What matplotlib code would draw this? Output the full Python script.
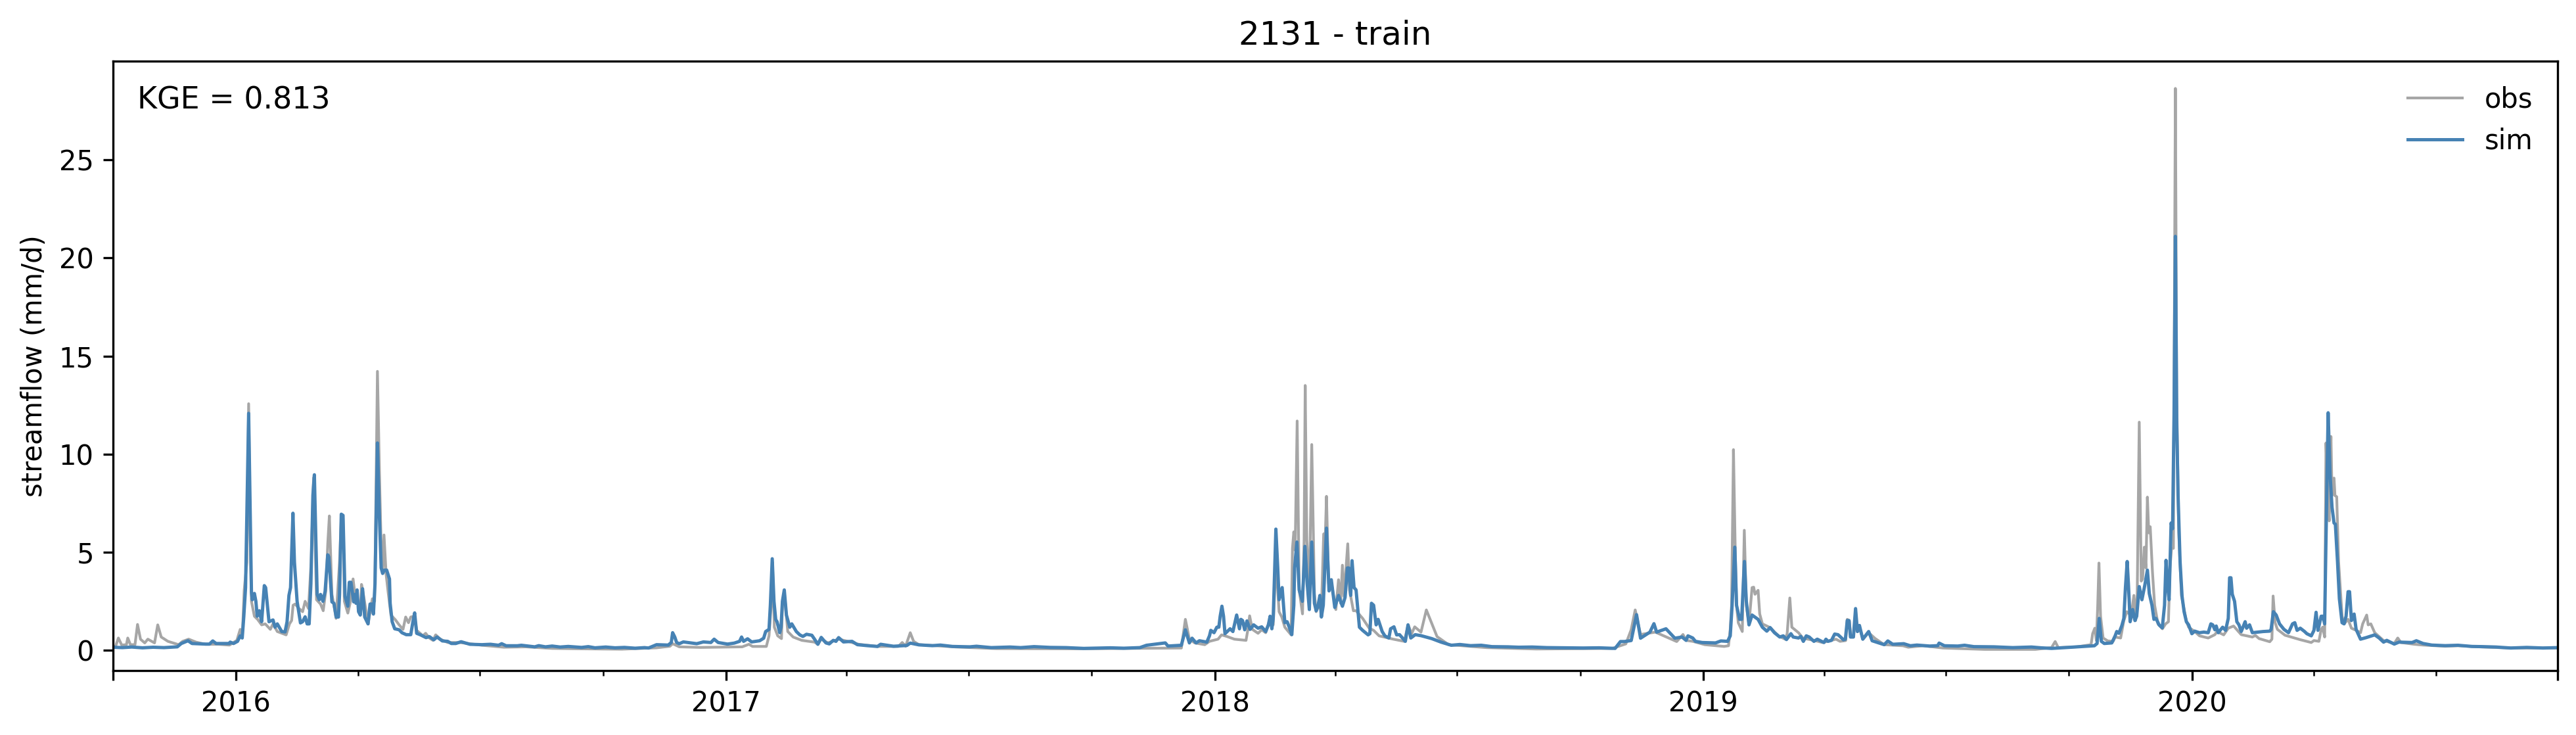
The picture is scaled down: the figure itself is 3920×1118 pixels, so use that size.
import pandas as pd
import matplotlib
matplotlib.use("Agg")
import matplotlib.pyplot as plt
import matplotlib.dates as mdates

basin = "2131"
period = "train"
kge = 0.813
start_date = "2015-10-01"
end_date = "2020-09-30"

# (days since start_date, streamflow mm/d) at the turning points
obs_trace = [
    (0, .16), (2, .22), (4, .63), (6.5, .27), (10, .29), (11, .63), (13, .29), (16.4, .29), (18.3, 1.32),
    (20.5, .57), (23.7, .38), (26, .57), (31, .38), (33.4, 1.3), (36, .68), (41, .46), (49, .29), (52, .46),
    (56.5, .57), (62, .42), (69, .31), (78.6, .31), (87, .27), (92.5, .51), (95, 1.07), (96.6, .74),
    (98, 3.08), (100, 4.5), (101.3, 12.57), (102.5, 5.65), (103.4, 2.5), (105.6, 1.74), (108, 1.58),
    (111, 1.3), (113.7, 1.35), (117.5, 1.07), (119.5, 1.35), (122.7, .96), (129.3, .79), (131.8, 1.35),
    (133.4, 1.52), (134.5, 2.3), (136, 2.36), (139, 2.13), (141.6, 1.97), (143.5, 2.5), (146, 2.13),
    (148, 4.5), (149.8, 8.8), (152, 2.58), (155, 2.36), (157, 2.02), (159, 3.08), (160.4, 5.43),
    (161.6, 6.85), (163.5, 2.86), (165, 2.3), (166.6, 1.63), (169.2, 4.5), (170.5, 6.77), (171.8, 6.7),
    (172.8, 2.5), (175.4, 1.9), (177.4, 2.5), (179.3, 3.64), (181.5, 2.4), (183, 2.5), (184.7, 1.85),
    (185.6, 3.36), (187, 2.86), (188.8, 2.08), (190.5, 1.35), (193.7, 2.63), (195.4, 2.5), (196.4, 7.89),
    (197.5, 14.22), (199, 9), (200.3, 5.2), (201.4, 3.97), (202.4, 5.88), (204, 3.87), (205.5, 2.97),
    (207.6, 1.8), (211, 1.55), (213.7, 1.3), (216.6, 1.07), (218.6, 1.7), (220.7, 1.41), (222.4, 1.7),
    (225.2, 1.74), (226.8, 1.02), (229.7, .85), (231.4, .74), (233.5, .87), (236.3, .63), (239, .51),
    (241, .79), (244.5, .57), (250, .4), (259, .4), (275.6, .26), (292, .16), (308.3, .18), (328, .1),
    (350, .08), (380, .06), (406, .13), (416, .21), (418, .34), (423, .18), (439, .15), (470, .18),
    (475, .31), (477.7, .2), (488, .2), (490, .74), (491.6, 2.3), (492.6, 4.5), (494, 1.18), (496.5, .74),
    (499.3, .6), (500, 2.3), (501.4, 3.0), (504, .96), (508, .68), (514.5, .51), (524, .42), (526.5, .31),
    (529, .57), (534, .38), (542, .57), (547, .49), (557, .31), (571, .2), (586.5, .2), (589.5, .4),
    (592, .21), (595.5, .9), (598, .46), (602, .29), (630, .17), (660, .09), (720, .08), (798, .12),
    (801, 1.58), (804, .57), (808, .38), (815.5, .29), (819, .46), (825.4, .57), (828, .79), (832, .71),
    (837.6, .57), (846.3, .51), (848, 1.18), (849, 1.76), (851, 1.07), (855.3, .87), (858, 1.05), (861, .9),
    (864.4, 1.63), (866.6, 1.3), (868.7, 4.5), (871, 1.97), (873, 1.7), (875.3, 1.18), (880, .79),
    (881, 5.2), (882, 6.04), (883, 5.1), (884.5, 11.69), (886, 3.08), (888.5, 1.86), (889.7, 5.65),
    (890.5, 13.5), (891.7, 5.65), (893.6, 2.85), (895.4, 10.49), (897.4, 2.85), (898.7, 1.97), (900.7, 2.3),
    (902.6, 2.02), (904.3, 5.93), (905.6, 5.98), (906.4, 7.85), (908, 3.4), (910.5, 3.25), (913.4, 2.08),
    (915.4, 3.6), (917, 2.4), (918.3, 4.34), (919.5, 2.75), (921, 4.2), (922.3, 5.43), (923.6, 3.08),
    (926.5, 2.02), (928.5, 2.02), (933.4, 1.63), (938.3, 1.13), (941.6, 1.02), (945.7, .74), (956.3, .57),
    (964.5, .46), (967.4, 1.3), (970, .85), (972.3, 1.2), (977, .93), (981, 2.06), (989, .7), (997.6, .29),
    (1026, .14), (1063, .07), (1120, .1), (1130, .33), (1134, 1.05), (1137, 2.06), (1141, .81), (1152, .93),
    (1168, .45), (1172.7, .81), (1175, .51), (1180, .46), (1189, .29), (1203.4, .2), (1206.7, .235),
    (1208, 1.07), (1209, 2.3), (1210.4, 10.23), (1211.6, 5.54), (1212.7, 2.3), (1214, 1.41), (1217, .96),
    (1218.5, 6.12), (1220, 2.3), (1222, 1.35), (1223.4, 2.5), (1224.3, 3.2), (1225.5, 3.22), (1226.5, 2.86),
    (1228.8, 3.06), (1230, 1.86), (1232, 1.35), (1237.8, 1.16), (1244, .74), (1249, .57), (1250.5, .85),
    (1252.5, 2.67), (1254, 1.18), (1259, .9), (1262.3, .62), (1270.5, .51), (1277, .4), (1287, .57),
    (1290, .46), (1294.2, .5), (1295.4, 1.58), (1297, 1.5), (1298, .68), (1300, .68), (1301.6, 2.0),
    (1303, .96), (1304.5, 1.2), (1307, .57), (1311.4, .9), (1316.3, .6), (1323, .29), (1337, .235),
    (1341, .16), (1352, .235), (1367, .12), (1398, .05), (1436, .05), (1448, .14), (1450.7, .45),
    (1453, .14), (1467, .18), (1477.5, .29), (1478.7, .85), (1480.3, 1.13), (1481.5, .5), (1482.5, 2.3),
    (1483.4, 4.45), (1484.6, 1.74), (1486.5, .63), (1490, .48), (1494, .46), (1495.5, .68), (1499.6, .63),
    (1502, 1.52), (1504.2, 1.97), (1506.2, 1.85), (1508, 2.02), (1509.5, 2.8), (1510.8, 1.52), (1512, 2.85),
    (1513.5, 11.63), (1515, 3.53), (1516, 3.64), (1517.3, 5.26), (1518.5, 4.2), (1519.6, 7.81), (1520.6, 5.99),
    (1521.7, 6.3), (1523.4, 3.97), (1525, 2.3), (1527.5, 1.35), (1530.8, 1.1), (1533.2, 1.35), (1535.3, 1.46),
    (1536.5, 4.2), (1537.6, 5.2), (1539, 5.2), (1540.5, 28.64), (1541.5, 13), (1543, 6), (1545, 2.8),
    (1548.7, 1.5), (1550.4, 1.18), (1555, .96), (1558.5, .74), (1565, .63), (1570, .8), (1571.6, .96),
    (1576.6, .79), (1580, 1.13), (1584, 1.24), (1589.7, .8), (1598, .68), (1600.3, .76), (1603, .6),
    (1611, .44), (1612.6, .57), (1613.5, 2.77), (1615, 1.41), (1616.7, 1.07), (1622.4, .77), (1634, .54),
    (1642, .4), (1644, .5), (1647.7, .46), (1649.4, 1.07), (1650.5, 1.18), (1652, .68), (1653, 10.57),
    (1654.3, 7.89), (1655.4, 6.6), (1656.7, 10.9), (1657.5, 7.89), (1659, 8.78), (1659.7, 7.89), (1661, 7.83),
    (1662.4, 4.53), (1665, 1.74), (1666.5, 1.35), (1669.5, 1.58), (1672, 1.13), (1675.5, 1.02), (1678.8, .9),
    (1680.4, 1.35), (1683.4, 1.8), (1684.5, 1.3), (1686.5, 1.35), (1689.4, .9), (1696, .5), (1704, .35),
    (1706.6, .63), (1709, .4), (1719, .31), (1725.5, .27), (1742, .21), (1751.6, .235), (1770, .17),
    (1791, .12), (1826, .12),
]

sim_trace = [
    (0, .16), (7, .14), (14, .17), (22, .13), (30, .16), (38, .14), (48, .18), (51, .35), (56, .49), (59, .35), (69, .32), (72, .32), (74.5, .48), (77, .35),
    (87, .35), (87.5, .42), (90, .35), (93, .46), (95, .74), (96.5, .63), (97.7, 1.74), (99, 3.2),
    (101.3, 12.08), (102.5, 6.8), (103.4, 2.97), (104, 2.58), (105.6, 2.9), (106.7, 2.5), (107.7, 1.74),
    (109.3, 2.02), (111, 1.46), (113, 3.3), (114, 3.2), (116.5, 1.46), (119.5, 1.55), (121, 1.18),
    (122.7, 1.35), (126, .96), (128.5, .94), (130, 1.46), (131.4, 2.8), (132.6, 3.2), (134.4, 6.99),
    (135.5, 4.5), (137.5, 2.5), (140, 1.4), (141.6, 1.46), (143.5, 1.71), (145, 1.35), (146.5, 1.35),
    (147.8, 3.4), (149.3, 7.9), (150.4, 8.95), (151.5, 5.65), (152.5, 2.85), (154, 2.58), (155, 2.85),
    (156.8, 2.5), (158.4, 3.0), (160.4, 4.87), (161.2, 4.76), (163.5, 2.47), (165, 2.4), (166.7, 1.7),
    (168.4, 1.7), (169.2, 2.85), (170.5, 6.94), (171.8, 6.88), (173.3, 2.75), (175.4, 2.25), (176.5, 3.47),
    (177.7, 3.47), (179.8, 2.47), (180.6, 2.85), (181.5, 2.4), (182.3, 3.08), (183.4, 1.97), (184.7, 1.8),
    (186.4, 3.14), (188, 1.7), (190.5, 1.35), (192, 2.36), (193.2, 2.36), (194.5, 1.85), (195.7, 3.4),
    (197.5, 10.57), (199, 6.77), (200.3, 4.2), (201.4, 3.92), (202.7, 4.09), (204.4, 4.09), (206.5, 3.64),
    (207, 2.4), (208.5, 1.46), (210.4, 1.1), (213.7, 1.05), (215.8, .9), (219, .8), (222.4, .8), (224, 1.46),
    (225.3, 1.91), (226.8, .87), (229.7, .79), (233.8, .65), (236.3, .7), (239.6, .54), (242, .68), (246, .48),
    (250, .46), (252.7, .35), (256, .35), (260, .44), (266.6, .31), (275.6, .29), (282, .31), (288, .26),
    (290.3, .34), (293.6, .235), (302, .235), (305, .26), (315, .18), (318, .24), (323, .18), (328, .22),
    (334, .17), (340, .2), (350, .15), (355, .19), (360, .13), (368, .17), (375, .13), (382, .15), (390, .11), (397, .14),
    (400, .12), (406, .29), (414.7, .27), (417, .4),
    (418, .9), (419.6, .68), (421, .4), (423, .34), (426, .43), (436, .34), (441, .43), (446.6, .4), (449, .57),
    (452, .4), (459, .32), (464, .37), (468, .46), (469.5, .68), (471, .46), (474, .59), (477, .43), (483, .49),
    (486, .62), (487.5, .96), (490, 1.07), (491, 2.3), (492.4, 4.67), (493.7, 2.5), (495, 1.57), (496, 1.46),
    (498, .9), (499, 1.18), (500, 2.5), (501.4, 3.08), (503, 1.8), (505.5, 1.18), (507, 1.35), (510.4, .96),
    (513, .79), (515.3, .71), (518, .82), (522, .77), (524, .57), (526.5, .31), (529, .66), (532.5, .38),
    (535, .33), (538, .51), (540, .46), (542, .65), (545.6, .43), (552, .46), (556, .29), (563.6, .24), (571, .2),
    (573.4, .31), (583, .21), (593, .25), (595.5, .37), (602, .28), (612, .24), (618, .27), (627, .2), (640, .18),
    (645, .21), (656, .14), (670, .17), (678, .14), (688, .19), (700, .15), (712, .14), (725, .1), (745, .13),
    (755, .11), (767, .14), (772, .26), (786, .38), (788, .22), (798, .26), (801, 1.05), (804, .38), (806, .62), (809, .38),
    (811.5, .49), (817, .42), (819, .74), (820, 1.02), (822.4, .9), (824.5, 1.18), (826, 1.18), (827, 1.74),
    (828.3, 2.25), (829.5, 1.74), (830.6, .85), (834.4, 1.1), (836.5, .96), (839.3, 1.8), (841.4, 1.1),
    (842.5, 1.58), (843.7, 1.52), (845.3, 1.05), (847, 1.5), (849.3, 1.07), (852, 1.3), (855.3, 1.13), (858, 1.2),
    (861, .96), (863, 1.3), (864.3, 1.74), (865.6, 1.1), (866.6, 1.63), (867.4, 3.4), (868.6, 6.18), (870, 4.2),
    (871, 2.58), (873.3, 3.2), (875.3, 1.41), (877, 1.46), (878.6, 1.18), (880.5, .8), (882, 2.3), (882.6, 4.2),
    (884.3, 5.52), (886, 3.08), (888.4, 2.5), (890.3, 5.3), (892, 3.4), (893.6, 2.08), (895.4, 5.52), (897.4, 2.4),
    (898.7, 2.02), (900, 2.25), (901.5, 2.8), (902.6, 1.7), (904, 2.3), (906.4, 6.23), (908.3, 3.03), (910, 3.6),
    (912.6, 2.19), (915.4, 2.8), (918.3, 2.25), (920.3, 2.7), (922, 4.2), (923, 4.2), (924.5, 2.8), (925.5, 4.57),
    (927, 3.2), (928.5, 3.08), (931, 1.18), (933.4, 1.02), (937.5, .79), (938.8, .85), (940, 2.4), (941.6, 2.3),
    (943.5, 1.3), (945, 1.58), (948, .96), (950, .74), (953, .63), (954.3, 1.1), (956.8, 1.2), (958.8, .79),
    (961, .8), (965.3, .46), (967.3, 1.3), (969.4, .63), (972.7, .8), (977, .75), (985, .6), (992, .42), (999.6, .26), (1006, .3), (1014, .24),
    (1022, .26), (1030, .19), (1042, .18), (1050, .16), (1060, .17), (1071, .14), (1085, .13), (1098, .12), (1110, .13), (1122, .1), (1126, .45), (1129, .45), (1134, .5), (1138, 1.82), (1141, .62), (1148, .93),
    (1151, 1.36), (1153, .93), (1160, 1.1), (1166.6, .62), (1172, .68), (1175, .51), (1176.4, .74), (1180, .63),
    (1182, .46), (1187, .4), (1197, .38), (1201, .48), (1206, .46), (1208, .74), (1209.4, 2.3), (1211.4, 5.26),
    (1212.7, 2.3), (1215, 1.58), (1216.5, 1.58), (1218.6, 4.53), (1220, 2.5), (1222, 1.3), (1224.3, 1.8), (1228.8, 1.58),
    (1232, 1.18), (1235.3, .98), (1237.8, 1.16), (1241, .9), (1245, .68), (1247.6, .74), (1250, .55), (1253.3, .85),
    (1255, .68), (1259, .63), (1260.7, .71), (1262.6, .46), (1264.8, .74), (1267, .68), (1270.5, .46), (1273, .57),
    (1278, .4), (1279.5, .57), (1281, .46), (1283.6, .51), (1286, .83), (1288.5, .8), (1292.6, .54), (1294, .57),
    (1295.4, 1.52), (1296.7, 1.52), (1297.8, .68), (1300, .68), (1301.6, 2.13), (1303, .96), (1304.5, 1.27), (1307, .57),
    (1311.4, .96), (1314, .49), (1323, .29), (1325.7, .48), (1329.4, .31), (1337.6, .34), (1342.5, .235), (1347.4, .27),
    (1357, .22), (1363, .24), (1364, .37), (1368, .235), (1378, .22), (1383, .26), (1390, .19), (1405, .18), (1412, .16),
    (1419, .14), (1433, .17), (1440, .13), (1448, .1), (1458, .14), (1467, .18), (1480, .235),
    (1482, .35), (1483.6, 1.63), (1485.2, .46), (1487.4, .35), (1493, .38), (1495.5, .74), (1496.7, .96), (1498.3, .87),
    (1500.5, 1.26), (1502, 1.63), (1503.2, 3.2), (1504.5, 4.53), (1505.4, 3.4), (1506.7, 1.46), (1508.6, 2.08),
    (1510.3, 1.52), (1511.6, 1.74), (1513.5, 3.25), (1515.5, 2.58), (1517.6, 3.3), (1519.6, 4.09), (1521, 2.9), (1523, 2.3),
    (1524.5, 1.58), (1526, 1.63), (1528.3, 1.3), (1530.7, 1.15), (1532.4, 2.3), (1533.5, 4.59), (1534.5, 3.4), (1535.8, 2.58),
    (1537.3, 6.49), (1538.4, 6.2), (1539.5, 12), (1540.5, 21.1), (1541.5, 11.5), (1542.5, 7.9), (1544, 4.53), (1545.5, 2.75),
    (1547, 1.97), (1548.7, 1.46), (1550.4, 1.3), (1552.8, .85), (1555, .98), (1558.5, .9), (1561.8, .93), (1565, .9),
    (1567, 1.35), (1568.4, 1.3), (1570, 1.05), (1571, 1.24), (1572.5, .9), (1575.8, 1.18), (1578, 1.02), (1580, 1.63),
    (1581, 3.7), (1582, 3.7), (1583, 2.86), (1584.7, 2.5), (1586.4, 1.46), (1588, 1.3), (1589.7, .96), (1592.6, 1.46),
    (1593.7, 1.13), (1595.9, 1.3), (1598, .9), (1606, .96), (1611, .98), (1612, 1.07), (1613.7, 1.97), (1615.8, 1.8),
    (1618.3, 1.35), (1621.6, 1.07), (1625, .9), (1628, 1.35), (1629.7, 1.41), (1631.4, 1.02), (1633.8, 1.13), (1637, .96),
    (1638.7, .85), (1642, .74), (1644, 1.02), (1645.6, 1.94), (1647, 1.02), (1649.4, 1.74), (1650.7, 1.74), (1652, 1.35),
    (1653, 5.65), (1654.6, 12.11), (1656, 9), (1657.5, 7.3), (1659, 6.49), (1660, 6.43), (1661.6, 4.53), (1663, 2.63),
    (1665, 1.41), (1666.5, 1.35), (1668, 1.74), (1669.5, 2.99), (1670.6, 2.99), (1672, 1.52), (1674, 1.85), (1675.5, 1.07),
    (1678.8, .57), (1683, .65), (1689.4, .79), (1692.7, .63), (1696, .42), (1698.4, .51), (1704, .32), (1707.5, .42),
    (1717.3, .4), (1720.5, .49), (1725.5, .35), (1732, .27), (1742, .24), (1751.6, .26), (1762, .2), (1770, .19), (1780, .17),
    (1791, .12), (1803, .15), (1815, .12), (1826, .14),
]

year_ticks = ["2016-01-01", "2017-01-01", "2018-01-01", "2019-01-01", "2020-01-01"]
year_labels = ["2016", "2017", "2018", "2019", "2020"]
flow_ticks = [0, 5, 10, 15, 20, 25]


def to_dates(days):
    return pd.Timestamp(start_date) + pd.to_timedelta(list(days), unit="D")


obs_days, obs_flow = zip(*obs_trace)
sim_days, sim_flow = zip(*sim_trace)

fig = plt.figure(figsize=(3920 / 300, 1118 / 300), dpi=300)
ax = fig.add_axes([172 / 3920, 98 / 1118, 3720 / 3920, 927 / 1118])

ax.plot(to_dates(obs_days), obs_flow, color="gray", alpha=0.7, lw=1.0, label="obs")
ax.plot(to_dates(sim_days), sim_flow, color="steelblue", lw=1.2, label="sim")

ax.set_xlim(pd.Timestamp(start_date), pd.Timestamp(end_date))
ax.set_ylim(-1.03, 30.03)
ax.set_yticks(flow_ticks)

# ends of the range get a long tick too, but no label
ax.set_xticks(pd.to_datetime([start_date] + year_ticks + [end_date]))
ax.set_xticklabels([""] + year_labels + [""])
ax.xaxis.set_minor_locator(mdates.MonthLocator(bymonth=[4, 7, 10]))

ax.set_ylabel("streamflow (mm/d)")
ax.set_title(f"{basin} - {period}", fontsize=12)
ax.text(0.01, 0.935, f"KGE = {kge:.3f}", transform=ax.transAxes, fontsize=11, va="center")
ax.legend(loc="upper right", frameon=False)

fig.savefig("out.png", dpi=300)
